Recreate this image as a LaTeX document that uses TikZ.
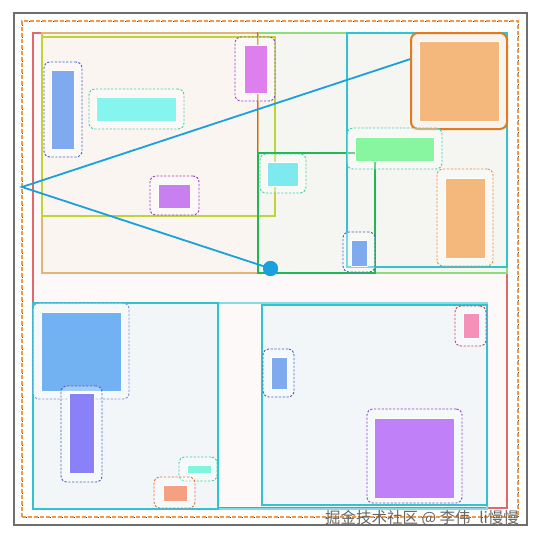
\documentclass[tikz,border=0pt]{standalone}
\usepackage{fontspec}
\newfontfamily\cjkfont{Noto Sans CJK SC}
\usetikzlibrary{fit,calc}
\definecolor{framegray}{HTML}{6E6E6E}
\definecolor{dashorange}{HTML}{F09A45}
\definecolor{redline}{HTML}{E06A6A}
\definecolor{redfill}{HTML}{FDF9F8}
\definecolor{tanline}{HTML}{E2B478}
\definecolor{tanfill}{HTML}{FAF5F1}
\definecolor{lgreen}{HTML}{8EDC7E}
\definecolor{lgreenfill}{HTML}{F5F5F1}
\definecolor{ygreen}{HTML}{C0D535}
\definecolor{dgreen}{HTML}{20B855}
\definecolor{cyanline}{HTML}{30C4CE}
\definecolor{bfill}{HTML}{F2F6F8}
\definecolor{linkblue}{HTML}{1AA0DC}
\definecolor{cblue}{HTML}{80AAF0}
\definecolor{ccyan}{HTML}{85F5EE}
\definecolor{cmag}{HTML}{DD80EE}
\definecolor{cpurple}{HTML}{C880F0}
\definecolor{corange}{HTML}{F4B87C}
\definecolor{cgreen}{HTML}{88F5A0}
\definecolor{cviolet}{HTML}{8A80F8}
\definecolor{caqua}{HTML}{80F5DD}
\definecolor{csalmon}{HTML}{F5A080}
\definecolor{cpink}{HTML}{F590B8}
\definecolor{cbigpurple}{HTML}{C080F8}
\definecolor{dblue}{HTML}{4A60C8}
\definecolor{daqua}{HTML}{40D0B0}
\definecolor{dpurple}{HTML}{9A40CC}
\definecolor{dorange}{HTML}{EA8A40}
\definecolor{dred}{HTML}{D83A60}
\definecolor{boxorange}{HTML}{E07B20}
\definecolor{boxfill}{HTML}{F7F3EE}
\tikzset{
  area/.style={inner sep=0pt, line width=1.1pt},
  item/.style={inner sep=0pt, draw=white, line width=0.6pt},
  dbox/.style={inner sep=0pt, rounded corners=6pt, line width=0.9pt, dash pattern=on 2.2pt off 1.6pt, fill=white, fill opacity=0.35, draw opacity=1},
}
\begin{document}
\begin{tikzpicture}[x=1pt,y=-1pt]
\useasboundingbox (0,0) rectangle (543,542);
\fill[white] (0,0) rectangle (543,542);
% outer frame
\node[area, draw=framegray, line width=1.8pt, fit={(14,13)(527,525)}] (frame) {};
\node[area, draw=black!70, line width=0.7pt, dash pattern=on 1pt off 3pt, fit={(22,21)(518,517)}] (dots) {};
\node[area, draw=dashorange, line width=1.2pt, dash pattern=on 4pt off 2pt, fit={(22,21)(518,517)}] (odash) {};
% red region
\node[area, draw=redline, fill=redfill, fit={(33,33)(507,508)}] (red) {};
% top regions
\node[area, draw=lgreen, fill=lgreenfill, fit={(258,33)(507,273)}] (gr) {};
\node[area, draw=tanline, fill=tanfill, fit={(42,33)(258,273)}] (tan) {};
\node[area, draw=ygreen, fit={(42,37)(275,216)}] (yg) {};
\node[area, draw=dgreen, fit={(258,153)(375,273)}] (dg) {};
\draw[dgreen, line width=1.1pt] (gr.north west) -- (gr.south west);
\node[area, draw=cyanline, fit={(347,33)(507,267)}] (cy) {};
% bottom regions
\node[area, draw=cyanline!60, line width=1.4pt, fit={(33,303)(487,509)}] (bot) {};
\node[area, draw=cyanline, fill=bfill, fit={(33,303)(218,509)}] (bl) {};
\node[area, draw=cyanline, fill=bfill, fit={(262,305)(487,505)}] (br) {};
% top-left items
\node[dbox, draw=dblue, fit={(44,62)(82,157)}] (b1) {};
\node[item, fill=cblue, fit={(51,70)(74,149)}] (i1) {};
\node[dbox, draw=daqua, fit={(89,89)(184,129)}] (b2) {};
\node[item, fill=ccyan, fit={(96,97)(176,121)}] (i2) {};
\node[dbox, draw=dpurple, fit={(235,37)(275,101)}] (b3) {};
\node[item, fill=cmag, fit={(244,45)(267,93)}] (i3) {};
\node[dbox, draw=dpurple, fit={(150,176)(199,215)}] (b4) {};
\node[item, fill=cpurple, fit={(158,184)(190,208)}] (i4) {};
\node[dbox, draw=daqua, fit={(260,154)(306,193)}] (b5) {};
\node[item, fill=ccyan!95!blue, fit={(267,162)(298,186)}] (i5) {};
% top-right items
\node[inner sep=0pt, rounded corners=7pt, draw=boxorange, line width=2pt, fill=boxfill, fit={(411,33)(507,129)}] (ob) {};
\node[item, fill=corange, fit={(419,41)(499,121)}] (i6) {};
\node[dbox, draw=daqua, fit={(347,128)(442,169)}] (b7) {};
\node[item, fill=cgreen, fit={(355,137)(434,161)}] (i7) {};
\node[dbox, draw=dorange, fit={(437,169)(493,266)}] (b8) {};
\node[item, fill=corange, fit={(445,178)(485,258)}] (i8) {};
\node[dbox, draw=dblue, fit={(343,232)(375,272)}] (b9) {};
\node[item, fill=cblue, fit={(351,240)(367,266)}] (i9) {};
% bottom-left items
\node[dbox, draw=dblue!70, fit={(33,303)(129,399)}] (b10) {};
\node[item, fill=cblue!90!cyan, fit={(41,312)(121,391)}] (i10) {};
\node[dbox, draw=dblue, fit={(61,386)(102,482)}] (b11) {};
\node[item, fill=cviolet, fit={(69,393)(94,473)}] (i11) {};
\node[dbox, draw=daqua, fit={(179,457)(217,481)}] (b12) {};
\node[item, fill=caqua, fit={(187,465)(211,473)}] (i12) {};
\node[dbox, draw=dorange!80!red, fit={(154,477)(195,508)}] (b13) {};
\node[item, fill=csalmon, fit={(163,485)(187,501)}] (i13) {};
% bottom-right items
\node[dbox, draw=dblue, fit={(263,349)(294,397)}] (b14) {};
\node[item, fill=cblue, fit={(271,357)(287,389)}] (i14) {};
\node[dbox, draw=dred, fit={(455,306)(486,346)}] (b15) {};
\node[item, fill=cpink, fit={(463,313)(479,338)}] (i15) {};
\node[dbox, draw=dpurple, fit={(367,409)(462,503)}] (b16) {};
\node[item, fill=cbigpurple, fit={(374,418)(454,498)}] (i16) {};
% connectors
\coordinate (apex) at (22,187);
\node[circle, fill=linkblue, inner sep=0pt, minimum size=15pt] (dot) at (270.5,268.5) {};
\draw[linkblue, line width=1.8pt] (ob.156) -- (apex) -- (dot.center);
\node[circle, fill=linkblue, inner sep=0pt, minimum size=15pt] at (dot) {};
% watermark
\node[inner sep=0pt, text=black!60, font=\cjkfont\fontsize{15.5}{17}\selectfont] (wm) at (422,518) {掘金技术社区 @ 李伟\_li慢慢};
\end{tikzpicture}
\end{document}
